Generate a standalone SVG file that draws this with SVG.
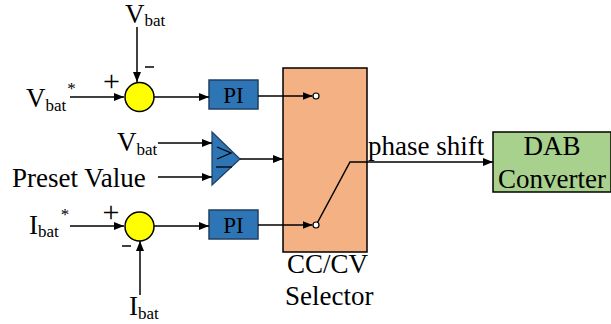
<svg xmlns="http://www.w3.org/2000/svg" width="611" height="324" viewBox="0 0 611 324">
<style>
text{font-family:"Liberation Serif","Times New Roman",serif;fill:#000}
.big{font-size:27px}
.sub{font-size:17px}
.pls{font-size:30px}
.pi{font-size:23px}
.ln{stroke:#000;stroke-width:1.5;fill:none}
</style>
<defs>
<marker id="ah" markerWidth="10" markerHeight="8" refX="10" refY="4" orient="auto" markerUnits="userSpaceOnUse">
<path d="M0,0 L10,4 L0,8 Z" fill="#000"/>
</marker>
</defs>
<rect width="611" height="324" fill="#fff"/>
<g id="selector">
<rect x="283" y="68" width="84" height="184" fill="#F4B183" stroke="#000" stroke-width="1.5"/>
<circle cx="316" cy="96" r="3" fill="#fff" stroke="#000" stroke-width="1.2"/>
<circle cx="316" cy="225" r="3" fill="#fff" stroke="#000" stroke-width="1.2"/>
<polyline class="ln" points="317.5,222.5 350,162 367,162"/>
<text class="big" x="287" y="273">CC/CV</text>
<text class="big" x="285" y="305">Selector</text>
</g>
<g id="dab">
<rect x="493" y="132" width="118" height="60" fill="#A9D18E" stroke="#000" stroke-width="1.5"/>
<text class="big" x="552" y="155" text-anchor="middle">DAB</text>
<text class="big" x="552" y="188" text-anchor="middle">Converter</text>
</g>
<g id="sum1">
<circle cx="139.5" cy="97" r="14.5" fill="#FFFF00" stroke="#000" stroke-width="1.5"/>
<text class="pls" x="111.5" y="91" text-anchor="middle">+</text>
<line x1="145" y1="67" x2="154" y2="67" stroke="#000" stroke-width="1.5"/>
</g>
<g id="sum2">
<circle cx="139.5" cy="226.5" r="14.5" fill="#FFFF00" stroke="#000" stroke-width="1.5"/>
<text class="pls" x="111" y="222" text-anchor="middle">+</text>
<line x1="122" y1="246" x2="131" y2="246" stroke="#000" stroke-width="1.5"/>
</g>
<g id="pi1">
<rect x="209" y="80" width="49" height="29" fill="#2E75B6" stroke="#1F3F60" stroke-width="1.5"/>
<text class="pi" x="233.5" y="103" text-anchor="middle">PI</text>
</g>
<g id="pi2">
<rect x="209" y="210" width="49" height="29" fill="#2E75B6" stroke="#1F3F60" stroke-width="1.5"/>
<text class="pi" x="233.5" y="233" text-anchor="middle">PI</text>
</g>
<g id="comparator">
<polygon points="212,132 240,159 212,185" fill="#2E75B6" stroke="#1F3F60" stroke-width="1.2"/>
<polyline points="217,147 231,153 217,159" fill="none" stroke="#000" stroke-width="1.3"/>
<line x1="216" y1="167" x2="232" y2="167" stroke="#000" stroke-width="1.3"/>
</g>
<g id="connectors">
<line class="ln" x1="137" y1="27" x2="137" y2="82" marker-end="url(#ah)"/>
<line class="ln" x1="70" y1="97" x2="124" y2="97" marker-end="url(#ah)"/>
<line class="ln" x1="154" y1="97" x2="209" y2="97" marker-end="url(#ah)"/>
<line class="ln" x1="258" y1="96" x2="312.5" y2="96" marker-end="url(#ah)"/>
<line class="ln" x1="158" y1="143" x2="212" y2="143" marker-end="url(#ah)"/>
<line class="ln" x1="158" y1="177" x2="212" y2="177" marker-end="url(#ah)"/>
<line class="ln" x1="240" y1="159" x2="283" y2="159" marker-end="url(#ah)"/>
<line class="ln" x1="70" y1="226" x2="124" y2="226" marker-end="url(#ah)"/>
<line class="ln" x1="140" y1="295" x2="140" y2="241" marker-end="url(#ah)"/>
<line class="ln" x1="154" y1="226" x2="209" y2="226" marker-end="url(#ah)"/>
<line class="ln" x1="258" y1="225" x2="312.5" y2="225" marker-end="url(#ah)"/>
<line class="ln" x1="367" y1="162" x2="493" y2="162" marker-end="url(#ah)"/>
</g>
<g id="output-label">
<text class="big" x="368" y="155">phase shift</text>
</g>
<g id="labels">
<text class="big" x="125" y="23">V<tspan class="sub" dy="3">bat</tspan></text>
<text class="big" x="26" y="107">V<tspan class="sub" dy="4">bat</tspan><tspan class="sub" dx="1" dy="-17">*</tspan></text>
<text class="big" x="117" y="151">V<tspan class="sub" dy="4">bat</tspan></text>
<text class="big" x="12" y="187">Preset Value</text>
<text class="big" x="29" y="234">I<tspan class="sub" dy="3">bat</tspan><tspan class="sub" dx="2" dy="-17">*</tspan></text>
<text class="big" x="129" y="315">I<tspan class="sub" dy="4">bat</tspan></text>
</g>
</svg>
